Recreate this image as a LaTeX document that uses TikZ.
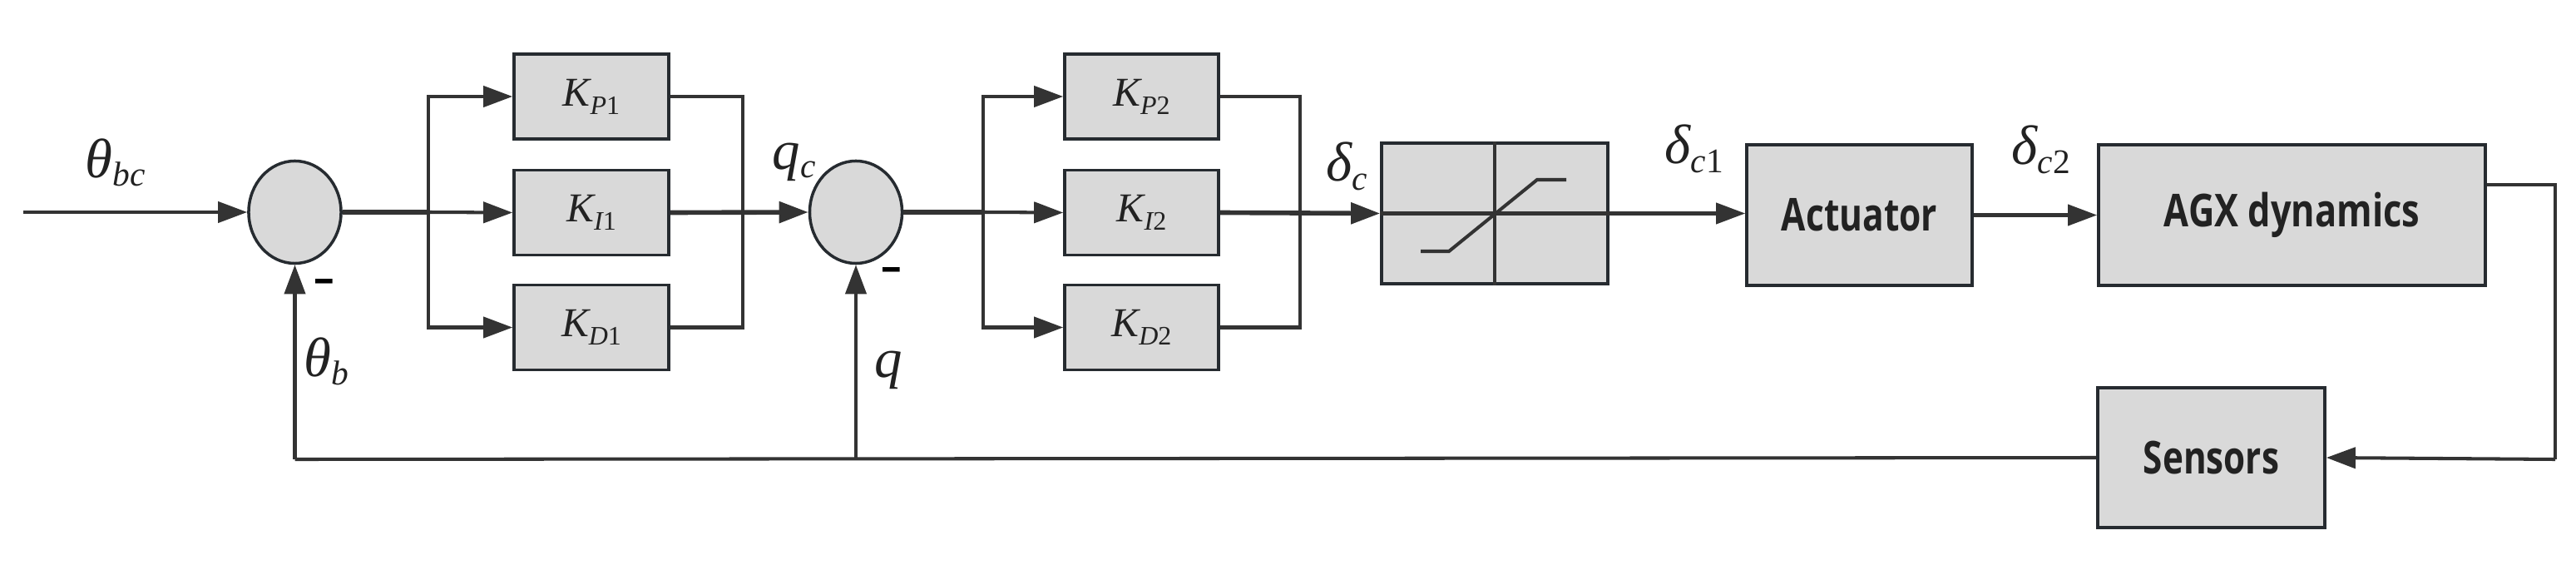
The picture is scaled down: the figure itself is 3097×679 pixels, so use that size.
\documentclass[tikz,border=0pt]{standalone}
\usepackage{fontspec}
\usepackage{graphicx}
\usetikzlibrary{arrows.meta,shapes.geometric}
\newfontfamily\tms{Liberation Serif}
\newfontfamily\sansb{Open Sans}
\definecolor{lnc}{HTML}{333333}
\definecolor{bdc}{HTML}{262B30}
\definecolor{fillc}{HTML}{D9D9D9}
\definecolor{txc}{HTML}{222222}
\newcommand\sg[2]{{\tms\itshape #1\raisebox{-0.15em}{\scalebox{0.62}{#2}}}}
\newcommand\kk[2]{{\tms\itshape K\raisebox{-0.2em}{\scalebox{0.65}{#1\upshape #2}}}}
\tikzset{
  blk/.style={draw=bdc, fill=fillc, line width=1pt, inner sep=0pt, rectangle},
  kblk/.style={blk, minimum width=1.86cm, minimum height=1.02cm, font=\fontsize{14}{16}\selectfont, text=txc},
  bigblk/.style={blk, minimum height=1.69cm, font=\fontsize{15.5}{18}\selectfont\sansb\bfseries, text=txc},
  sumnode/.style={ellipse, draw=bdc, fill=fillc, line width=1pt, minimum width=1.11cm, minimum height=1.23cm, inner sep=0pt},
  sgl/.style={anchor=base west, inner sep=0pt, font=\fontsize{19}{22}\selectfont, text=txc},
  wire/.style={draw=lnc, line width=1.15pt},
  mainw/.style={draw=lnc, line width=1.6pt},
  minus/.style={inner sep=0pt, font=\fontsize{14}{16}\selectfont\sansb\bfseries, text=black}
}
\begin{document}
\begin{tikzpicture}[x=0.01cm, y=-0.01cm, >={Triangle[length=0.35cm,width=0.25cm]}, line join=miter]
\useasboundingbox (0,0) rectangle (3097,679);
\fill[white] (0,0) rectangle (3097,679);

% summing junctions
\node[sumnode] (s1) at (354.5,255) {};
\node[sumnode] (s2) at (1029,255) {};

% PID 1
\node[kblk] (kp1) at (711,116) {\kk{P}{1}};
\node[kblk] (ki1) at (711,255.5) {\kk{I}{1}};
\node[kblk] (kd1) at (711,393.5) {\kk{D}{1}};
% PID 2
\node[kblk, minimum width=1.85cm] (kp2) at (1372.5,116) {\kk{P}{2}};
\node[kblk, minimum width=1.85cm] (ki2) at (1372.5,255.5) {\kk{I}{2}};
\node[kblk, minimum width=1.85cm] (kd2) at (1372.5,393.5) {\kk{D}{2}};

% saturation
\node[blk, minimum width=2.72cm, minimum height=1.69cm] (sat) at (1797,256.5) {};
% actuator, dynamics, sensors
\node[bigblk, minimum width=2.71cm] (act) at (2235.5,258.5) {\resizebox{1.87cm}{\height}{Actuator}};
\node[bigblk, minimum width=4.65cm] (agx) at (2755.5,258.5) {\resizebox{3.07cm}{\height}{AGX dynamics}};
\node[bigblk, minimum width=2.73cm, minimum height=1.68cm] (sen) at (2658.5,550) {\resizebox{1.63cm}{\height}{Sensors}};

% coordinates
\coordinate (in) at (28,255);
\coordinate (b1) at (515,255);
\coordinate (m1) at (893,255);
\coordinate (b2) at (1182,255);
\coordinate (m2) at (1563,255);
\coordinate (fb1) at (354.5,552);
\coordinate (fb2) at (1029,552);
\coordinate (rc) at (3072,552);

% input
\draw[wire, ->] (in) -- (s1.west);
% branch 1
\draw[mainw] (s1.east) -- (b1);
\draw[wire, ->] (b1) |- (kp1.west);
\draw[wire, ->] (b1) -- (ki1.west);
\draw[wire, ->] (b1) |- (kd1.west);
\draw[wire] (kp1.east) -| (m1) |- (kd1.east);
\draw[mainw, ->] (ki1.east) -- (s2.west);
% branch 2
\draw[mainw] (s2.east) -- (b2);
\draw[wire, ->] (b2) |- (kp2.west);
\draw[wire, ->] (b2) -- (ki2.west);
\draw[wire, ->] (b2) |- (kd2.west);
\draw[wire] (kp2.east) -| (m2) |- (kd2.east);
\draw[mainw, ->] (ki2.east) -- (sat.west);
% saturation internals
\draw[wire] (sat.west) -- (sat.east);
\draw[wire] (sat.north) -- (sat.south);
\draw[wire] (1708,302) -- (1742,302) -- (1848,216) -- (1883,216);
% forward path
\draw[wire, ->] (sat.east) -- (sat.east -| act.west);
\draw[wire, ->] (act.east) -- (agx.west);
% feedback
\draw[wire] ([yshift=0.365cm]agx.east) -| (rc);
\draw[wire, ->] (rc) -- (sen.east);
\draw[wire] (sen.west) -- (fb1);
\draw[wire, ->] (fb1) -- (s1.south);
\draw[wire, ->] (fb2) -- (s2.south);

% signal labels
\node[sgl] (lthbc) at (102,213) {\sg{θ}{bc}};
\node[sgl] (lqc) at (928,203) {\sg{q}{c}};
\node[sgl] (ldc) at (1594,218) {\sg{δ}{c}};
\node[sgl] (ldc1) at (2001,197) {\sg{δ}{c\upshape 1}};
\node[sgl] (ldc2) at (2418,198) {\sg{δ}{c\upshape 2}};
\node[sgl] (lthb) at (365,452) {\sg{θ}{b}};
\node[sgl] (lq) at (1051,453) {{\tms\itshape q}};

% minus signs
\node[minus] (mn1) at (390,343) {–};
\node[minus] (mn2) at (1072,329) {–};
\end{tikzpicture}
\end{document}
